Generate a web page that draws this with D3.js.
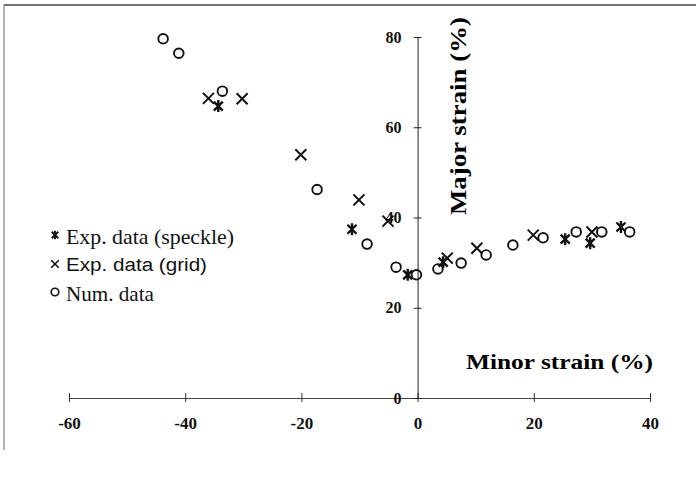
<!DOCTYPE html>
<html>
<head>
<meta charset="utf-8">
<script src="https://cdn.jsdelivr.net/npm/d3@7"></script>
<style>
  body { margin: 0; background: #fff; }
  svg { display: block; }
  .tick text { font-family: "Liberation Serif", "Times New Roman", serif; font-weight: bold; fill: #111; }
</style>
</head>
<body>
<div id="chart"></div>
<script>
// Minor strain (x, %) / major strain (y, %)
const speckle = [[-34.3, 64.7], [-11.3, 37.4], [-1.7, 27.3], [4.4, 30.1], [25.4, 35.2], [29.7, 34.3], [35.0, 37.9]];
const grid = [[-36.0, 66.4], [-30.2, 66.3], [-20.1, 53.9], [-10.1, 43.9], [-5.1, 39.2], [5.1, 31.0], [10.2, 33.2], [19.9, 36.1], [30.0, 36.8]];
const num = [[-43.8, 79.6], [-41.1, 76.4], [-33.6, 68.0], [-17.3, 46.2], [-8.7, 34.1], [-3.7, 29.0], [-0.2, 27.3],
  [3.5, 28.6], [7.5, 29.9], [11.8, 31.7], [16.4, 33.9], [21.6, 35.5], [27.3, 36.8], [31.7, 36.8], [36.5, 36.8]];
const xTicks = [-60, -40, -20, 0, 20, 40];
const yTicks = [0, 20, 40, 60, 80];
const legendLabels = ['Exp. data (speckle)', 'Exp. data (grid)', 'Num. data'];

const width = 696;
const height = 477;

const svg = d3.select('#chart').append('svg')
  .attr('width', width)
  .attr('height', height);

const x = d3.scaleLinear().domain([-60, 40]).range([69, 650]);
const y = d3.scaleLinear().domain([0, 80]).range([398, 37]);

// frame (only top and left edges survive in the scan)
svg.append('line').attr('x1', 4).attr('x2', width).attr('y1', 5).attr('y2', 5)
  .attr('stroke', '#444').attr('stroke-width', 1.5);
svg.append('line').attr('x1', 4).attr('x2', 4).attr('y1', 5).attr('y2', 450)
  .attr('stroke', '#666').attr('stroke-width', 1);

// x axis along y = 0 (plain hyphen for negatives, as in the scan)
const xAxis = svg.append('g')
  .attr('transform', `translate(0,${y(0)})`)
  .call(d3.axisBottom(x).tickValues(xTicks).tickFormat(d => `${d}`)
    .tickSizeInner(4).tickSizeOuter(0).tickPadding(15));
xAxis.select('.domain').attr('stroke', '#444');
xAxis.selectAll('.tick line').attr('y1', -5).attr('stroke', '#333');
xAxis.selectAll('.tick text').style('font-size', '17px');

// y axis along x = 0
const yAxis = svg.append('g')
  .attr('transform', `translate(${x(0)},0)`)
  .call(d3.axisLeft(y).tickValues(yTicks).tickFormat(d => `${d}`)
    .tickSizeInner(4).tickSizeOuter(0).tickPadding(12));
yAxis.select('.domain').attr('stroke', '#222');
yAxis.selectAll('.tick line').attr('x1', 4).attr('stroke', '#222');
yAxis.selectAll('.tick text').style('font-size', '16px');

// axis titles
svg.append('text')
  .attr('transform', `translate(466,116) rotate(-90)`)
  .attr('text-anchor', 'middle')
  .attr('textLength', 198)
  .attr('lengthAdjust', 'spacingAndGlyphs')
  .style('font-family', '"Liberation Serif", serif')
  .style('font-weight', 'bold')
  .style('font-size', '23px')
  .text('Major strain (%)');

svg.append('text')
  .attr('x', 466)
  .attr('y', 369)
  .attr('textLength', 187)
  .attr('lengthAdjust', 'spacingAndGlyphs')
  .style('font-family', '"Liberation Serif", serif')
  .style('font-weight', 'bold')
  .style('font-size', '21px')
  .text('Minor strain (%)');

// marker shapes
function crossPath(s) {
  return `M${-s},${-s}L${s},${s}M${-s},${s}L${s},${-s}`;
}
function starPath(s) {
  return `${crossPath(s * 0.9)}M0,${-s * 1.2}L0,${s * 1.2}`;
}

const marks = svg.append('g').attr('fill', 'none').attr('stroke', '#111');

marks.selectAll('.num')
  .data(num)
  .enter().append('circle')
  .attr('class', 'num')
  .attr('cx', d => x(d[0]))
  .attr('cy', d => y(d[1]))
  .attr('r', 4.8)
  .attr('stroke-width', 1.9);

marks.selectAll('.grid')
  .data(grid)
  .enter().append('path')
  .attr('class', 'grid')
  .attr('transform', d => `translate(${x(d[0])},${y(d[1])})`)
  .attr('d', crossPath(5.5))
  .attr('stroke-width', 2);

marks.selectAll('.speckle')
  .data(speckle)
  .enter().append('path')
  .attr('class', 'speckle')
  .attr('transform', d => `translate(${x(d[0])},${y(d[1])})`)
  .attr('d', starPath(5))
  .attr('stroke-width', 2.4);

// legend
const legend = svg.append('g');
const legendRows = [
  { y: 244, my: 235, font: '"Liberation Serif", serif', size: 21, len: 168 },
  { y: 271, my: 264, font: '"Liberation Sans", Arial, sans-serif', size: 18, len: 141 },
  { y: 301, my: 292, font: '"Liberation Serif", serif', size: 21, len: 88 },
];
legendRows.forEach((r, i) => {
  legend.append('text')
    .attr('x', 66)
    .attr('y', r.y)
    .attr('textLength', r.len)
    .attr('lengthAdjust', 'spacingAndGlyphs')
    .style('font-family', r.font)
    .style('font-size', `${r.size}px`)
    .attr('fill', '#111')
    .text(legendLabels[i]);
});
legend.append('path')
  .attr('transform', `translate(55,${legendRows[0].my})`)
  .attr('d', starPath(3.6))
  .attr('fill', 'none').attr('stroke', '#111').attr('stroke-width', 1.9);
legend.append('path')
  .attr('transform', `translate(55,${legendRows[1].my})`)
  .attr('d', crossPath(3.8))
  .attr('fill', 'none').attr('stroke', '#111').attr('stroke-width', 1.6);
legend.append('circle')
  .attr('cx', 55).attr('cy', legendRows[2].my).attr('r', 3.8)
  .attr('fill', 'none').attr('stroke', '#111').attr('stroke-width', 1.6);
</script>
</body>
</html>
